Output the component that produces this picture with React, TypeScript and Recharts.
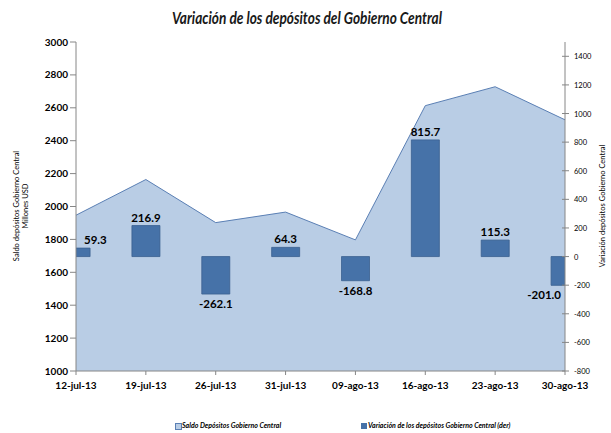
import { ComposedChart, Area, Bar, XAxis, YAxis, Legend, LabelList } from 'recharts'

const fechas = ['12-jul-13', '19-jul-13', '26-jul-13', '31-jul-13', '09-ago-13', '16-ago-13', '23-ago-13', '30-ago-13']
const saldo = [1947, 2164, 1902, 1966, 1797, 2613, 2728, 2527]
const variacion = [59.3, 216.9, -262.1, 64.3, -168.8, 815.7, 115.3, -201.0]
const ticksIzq = [1000, 1200, 1400, 1600, 1800, 2000, 2200, 2400, 2600, 2800, 3000]
const ticksDer = [-800, -600, -400, -200, 0, 200, 400, 600, 800, 1000, 1200, 1400]

const FONT = 'Lato, "DejaVu Sans", sans-serif'
const AREA_FILL = '#b9cde5'
const AREA_LINE = '#5a7fb4'
const BAR_FILL = '#4672a8'
const BAR_LINE = '#3a5f8f'
const AXIS = '#868686'

const PLOT_LEFT = 76
const PLOT_RIGHT = 565

const data = fechas.map((f, i) => ({ idx: i, fecha: f, saldo: saldo[i], variacion: variacion[i] }))

function BarLabel(props: any) {
  const { x, y, width, value } = props
  const txt = Number(value).toFixed(1)
  const cx = x + width / 2
  const w = txt.length * 6
  let anchor: 'middle' | 'start' | 'end' = 'middle'
  let tx = cx
  if (cx - w / 2 < PLOT_LEFT + 8) {
    anchor = 'start'
    tx = PLOT_LEFT + 8
  } else if (cx + w / 2 > PLOT_RIGHT - 4) {
    anchor = 'end'
    tx = PLOT_RIGHT - 4
  }
  const ty = value >= 0 ? y - 4 : y + 14
  return (
    <text x={tx} y={ty} textAnchor={anchor} fontFamily={FONT} fontSize={11.5} fontWeight={700} fill="#000">
      {txt}
    </text>
  )
}

function RightTick(props: any) {
  const { x, y, payload } = props
  return (
    <g>
      <line x1={x - 3} x2={x + 4} y1={y} y2={y} stroke={AXIS} />
      <text x={x + 9} y={y + 3} fontFamily={FONT} fontSize={7.5} fill="#000">
        {payload.value}
      </text>
    </g>
  )
}

function LeftTitle() {
  return (
    <text transform="translate(19, 206) rotate(-90)" textAnchor="middle" fontFamily={FONT} fontSize={7.5} fill="#000">
      <tspan x={0} dy={0}>Saldo depósitos  Gobierno Central</tspan>
      <tspan x={0} dy={9}>Millones  USD</tspan>
    </text>
  )
}

function RightTitle() {
  return (
    <text transform="translate(605, 206) rotate(-90)" textAnchor="middle" fontFamily={FONT} fontSize={7.5} fill="#000">
      Variación depósitos  Gobierno Central
    </text>
  )
}

function Leyenda() {
  const txt = { position: 'absolute' as const, top: 0, fontFamily: FONT, fontSize: 7, fontStyle: 'italic', fontWeight: 700, color: '#000', whiteSpace: 'nowrap' as const }
  return (
    <div style={{ position: 'relative', width: 611, height: 12 }}>
      <div style={{ position: 'absolute', left: 175, top: 2, width: 5, height: 5, background: AREA_FILL, border: `1px solid ${AREA_LINE}` }} />
      <div style={{ ...txt, left: 182 }}>Saldo Depósitos Gobierno Central</div>
      <div style={{ position: 'absolute', left: 361, top: 2, width: 6, height: 6, background: BAR_FILL }} />
      <div style={{ ...txt, left: 368 }}>Variación de los depósitos Gobierno Central (der)</div>
    </div>
  )
}

export default function App() {
  return (
    <div style={{ position: 'absolute', left: 0, top: 0, width: 611, height: 433, background: '#fff' }}>
      <svg width={611} height={40} style={{ position: 'absolute', left: 0, top: 0 }}>
        <text x={307} y={24} textAnchor="middle" fontFamily={FONT} fontSize={17} fontWeight={700} fontStyle="italic" fill="#1a1a1a" textLength={270} lengthAdjust="spacingAndGlyphs">
          Variación de los depósitos del Gobierno Central
        </text>
      </svg>
      <ComposedChart width={611} height={433} data={data} margin={{ top: 42, right: 0, bottom: 32, left: 0 }} style={{ position: 'absolute', left: 0, top: 0 }}>
        <XAxis
          dataKey="idx"
          type="number"
          domain={[0, 7]}
          ticks={[0, 1, 2, 3, 4, 5, 6, 7]}
          allowDataOverflow
          tickFormatter={(v: number) => fechas[v]}
          height={30}
          stroke={AXIS}
          tickSize={4}
          tickMargin={7}
          tick={{ fontFamily: FONT, fontSize: 10, fontWeight: 700, fill: '#000' }}
        />
        <YAxis
          yAxisId="left"
          domain={[1000, 3000]}
          ticks={ticksIzq}
          width={76}
          stroke={AXIS}
          tickSize={6}
          tickMargin={2}
          tick={{ fontFamily: FONT, fontSize: 10, fontWeight: 700, fill: '#000' }}
          label={{ content: LeftTitle }}
        />
        <YAxis
          yAxisId="right"
          orientation="right"
          domain={[-800, 1500]}
          ticks={ticksDer}
          width={46}
          stroke={AXIS}
          tickLine={false}
          tickSize={0}
          tickMargin={0}
          tick={RightTick}
          label={{ content: RightTitle }}
        />
        <Area
          yAxisId="left"
          dataKey="saldo"
          name="Saldo Depósitos Gobierno Central"
          type="linear"
          fill={AREA_FILL}
          fillOpacity={1}
          stroke={AREA_LINE}
          strokeWidth={1}
          isAnimationActive={false}
          dot={false}
          activeDot={false}
        />
        <Bar
          yAxisId="right"
          dataKey="variacion"
          name="Variación de los depósitos Gobierno Central (der)"
          barSize={28}
          fill={BAR_FILL}
          stroke={BAR_LINE}
          strokeWidth={0.8}
          isAnimationActive={false}
        >
          <LabelList dataKey="variacion" content={BarLabel} />
        </Bar>
        <Legend
          verticalAlign="middle"
          align="center"
          layout="horizontal"
          wrapperStyle={{ top: 421, left: 0, width: 611 }}
          content={() => <Leyenda />}
        />
      </ComposedChart>
    </div>
  )
}
